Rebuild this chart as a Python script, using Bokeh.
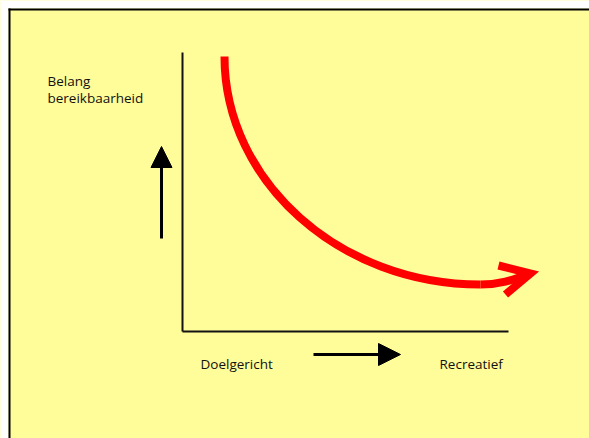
from bokeh.plotting import figure
from bokeh.models import Arrow, NormalHead, Range1d, BoxAnnotation
from bokeh.core.properties import value
from bokeh.embed import file_html
from bokeh.resources import INLINE

# Schematic data (diagram coordinate system, origin at the axes corner)
# red curve as two cubic bezier segments: start, control 0, control 1, end
curve_x0 = [42, 298]
curve_y0 = [274, 46]
curve_cx0 = [42, 318]
curve_cy0 = [149, 46]
curve_cx1 = [157, 331]
curve_cy1 = [46, 51]
curve_x1 = [298, 348]
curve_y1 = [46, 57]
head_x = [316, 348, 323]
head_y = [65, 57, 36]
axis_v_x = [0, 0]
axis_v_y = [278, -1]
axis_h_x = [0, 326]
axis_h_y = [-1, -1]
label_text = ["Belang", "bereikbaarheid", "Doelgericht", "Recreatief"]
label_x = [-135, -135, 18, 257]
label_y = [250, 233, -33, -33]

YELLOW = "#FFFD99"

p = figure(width=589, height=438, output_backend="svg", toolbar_location=None,
           x_range=Range1d(-182, 407), y_range=Range1d(-108, 330),
           x_axis_location=None, y_axis_location=None,
           min_border_left=0, min_border_top=0, min_border_right=0, min_border_bottom=0,
           border_fill_color=YELLOW, background_fill_color=YELLOW,
           outline_line_color=None)
p.grid.visible = False

# page margin (white) and black frame border on top / left
p.add_layout(BoxAnnotation(right=-174, fill_color="white", fill_alpha=1, line_color=None))
p.add_layout(BoxAnnotation(bottom=322, fill_color="white", fill_alpha=1, line_color=None))
p.add_layout(BoxAnnotation(left=-174, right=-172, top=322, fill_color="black", fill_alpha=1, line_color=None))
p.add_layout(BoxAnnotation(left=-174, bottom=320, top=322, fill_color="black", fill_alpha=1, line_color=None))

# axes lines
p.line(axis_v_x, axis_v_y, line_color="#111111", line_width=2)
p.line(axis_h_x, axis_h_y, line_color="#111111", line_width=2)

# red curve with open arrowhead
p.bezier(x0=curve_x0, y0=curve_y0, x1=curve_x1, y1=curve_y1,
         cx0=curve_cx0, cy0=curve_cy0, cx1=curve_cx1, cy1=curve_cy1,
         line_color="#FF0000", line_width=8, line_cap="butt")
p.line(head_x, head_y, line_color="#FF0000", line_width=8, line_join="miter", line_cap="butt")

# black arrows
p.add_layout(Arrow(end=NormalHead(size=21, fill_color="black", line_color="black"),
                   x_start=-21, y_start=92, x_end=-21, y_end=184,
                   line_color="black", line_width=3))
p.add_layout(Arrow(end=NormalHead(size=22, fill_color="black", line_color="black"),
                   x_start=131, y_start=-24, x_end=218, y_end=-24,
                   line_color="black", line_width=3))

p.text(x=label_x, y=label_y, text=label_text, text_font=value("Open Sans"),
       text_font_size="13.5px", text_color="#111111", text_align="left",
       text_baseline="alphabetic")

open("out.html", "w").write(file_html(p, INLINE))
